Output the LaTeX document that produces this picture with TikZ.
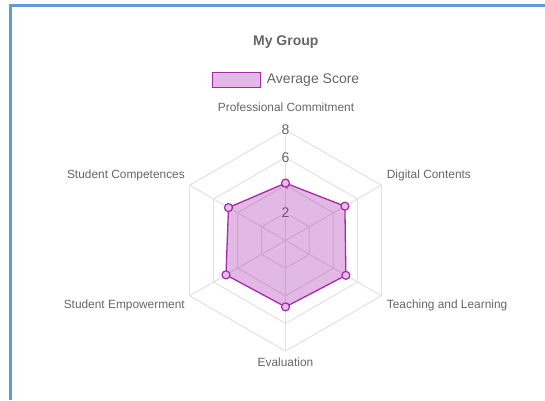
\documentclass[tikz,border=0pt]{standalone}
\usepackage{fontspec}
\setmainfont{Liberation Sans}
\definecolor{frameblue}{RGB}{95,157,215}
\definecolor{txtgray}{RGB}{102,102,102}
\definecolor{gridgray}{RGB}{225,225,225}
\definecolor{dsline}{RGB}{168,40,172}
\tikzset{
  axislabel/.style={font=\fontsize{11.9}{13}\selectfont, text=txtgray, inner sep=0pt},
  ticklabel/.style={font=\fontsize{14}{16}\selectfont, text=txtgray, inner sep=1pt, fill=white, fill opacity=0.75, text opacity=1},
  gridline/.style={draw=gridgray, line width=1pt},
  datapt/.style={circle, draw=dsline, line width=1.2pt, fill=dsline!30, minimum size=8pt, inner sep=0pt},
}
\begin{document}
\begin{tikzpicture}[x=1pt,y=1pt]
\useasboundingbox (0,0) rectangle (545,400);
% frame
\coordinate (fl) at (10.5,0);
\coordinate (fc) at (10.5,394.7);
\coordinate (fr) at (545,394.7);
\draw[frameblue, line width=3pt] (fl) -- (fc) -- ([xshift=-1.5pt]fc) -- (fr);
% title and legend
\node[font=\bfseries\fontsize{14}{16}\selectfont, text=txtgray] (title) at (285.8,358.3) {My Group};
\node[draw=dsline, line width=1pt, fill=dsline!33, minimum width=47.7pt, minimum height=15.4pt, inner sep=0pt] (legbox) at (236.2,320) {};
\node[anchor=west, font=\fontsize{14}{16}\selectfont, text=txtgray, inner sep=0pt] (legtext) at (266.7,320) {Average Score};
% radar
\begin{scope}[shift={(285.5,159.5)}]
\def\u{13.83}
\coordinate (c) at (0,0);
\foreach \v in {2,4,6,8}{
  \draw[gridline] (90:{\u*\v}) -- (30:{\u*\v}) -- (-30:{\u*\v}) -- (-90:{\u*\v}) -- (210:{\u*\v}) -- (150:{\u*\v}) -- cycle;
}
\foreach \a/\n in {90/o1,30/o2,-30/o3,-90/o4,210/o5,150/o6}{
  \coordinate (\n) at (\a:{\u*8});
  \draw[gridline] (c) -- (\n);
}
\node[ticklabel] (t2) at (90:{\u*2}) {2};
\node[ticklabel] (t4) at (90:{\u*4}) {4};
\node[ticklabel] (t6) at (90:{\u*6}) {6};
\node[ticklabel] (t8) at (90:{\u*8}) {8};
% data
\coordinate (d1) at (90:{\u*4.15});
\coordinate (d2) at (30:{\u*4.96});
\coordinate (d3) at (-30:{\u*5.04});
\coordinate (d4) at (-90:{\u*4.8});
\coordinate (d5) at (210:{\u*4.97});
\coordinate (d6) at (150:{\u*4.76});
\fill[dsline, fill opacity=0.33] (d1) -- (d2) -- (d3) -- (d4) -- (d5) -- (d6) -- cycle;
\draw[dsline, line width=1.3pt, line join=round] (d1) -- (d2) -- (d3) -- (d4) -- (d5) -- (d6) -- cycle;
\foreach \n in {d1,d2,d3,d4,d5,d6}{
  \node[datapt] (p\n) at (\n) {};
}
\end{scope}
% axis labels
\node[axislabel] (lpc) at (286,293) {Professional Commitment};
\node[axislabel, anchor=west] (ldc) at (386.7,225) {Digital Contents};
\node[axislabel, anchor=west] (ltl) at (386.7,95) {Teaching and Learning};
\node[axislabel] (lev) at (285.5,38) {Evaluation};
\node[axislabel, anchor=east] (lse) at (185,95) {Student Empowerment};
\node[axislabel, anchor=east] (lsc) at (185,225) {Student Competences};
\end{tikzpicture}
\end{document}
